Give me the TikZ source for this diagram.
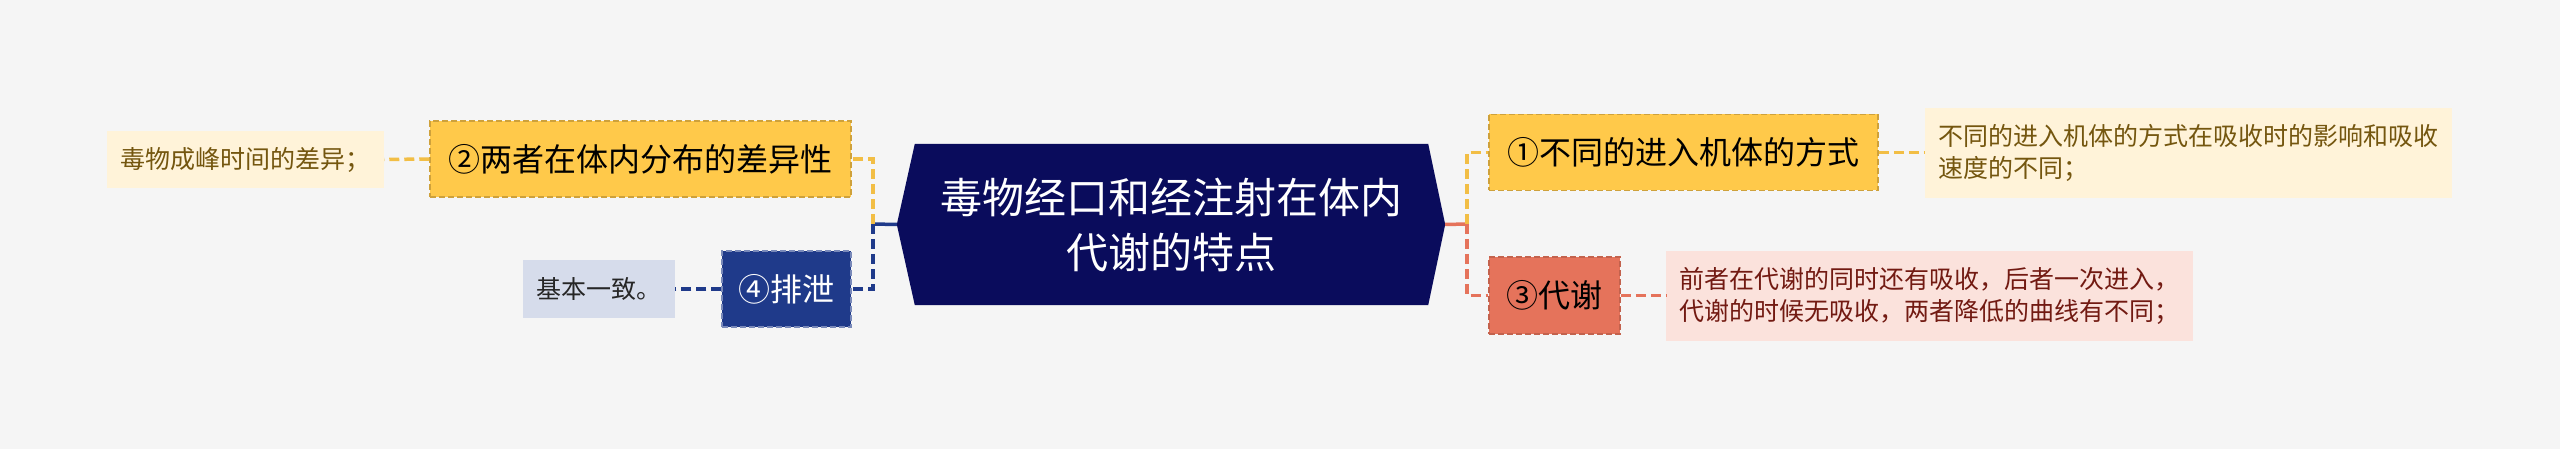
\documentclass[tikz,border=0pt]{standalone}
\usepackage{fontspec}
\setmainfont{Noto Sans CJK SC}
\usetikzlibrary{backgrounds}

\definecolor{bgcol}{HTML}{F5F5F5}
\definecolor{rootcol}{HTML}{0A0C5C}
\definecolor{yelcol}{HTML}{FFC94A}
\definecolor{yelline}{HTML}{F2BE45}
\definecolor{navcol}{HTML}{1F3A8A}
\definecolor{corcol}{HTML}{E5735B}
\definecolor{creamcol}{HTML}{FFF3D9}
\definecolor{creamtxt}{HTML}{74560F}
\definecolor{greycol}{HTML}{D6DCEB}
\definecolor{pinkcol}{HTML}{FBE2DC}
\definecolor{pinktxt}{HTML}{721A12}

\tikzset{
  branch/.style={rectangle, inner sep=0pt, minimum height=76pt,
    font=\fontsize{32}{38}\selectfont, dash pattern=on 6pt off 3pt, line width=1.5pt},
  leaf/.style={rectangle, inner xsep=13.5pt, inner ysep=0pt,
    font=\fontsize{25}{32}\selectfont, align=left},
  link/.style={line width=3.5pt, dash pattern=on 10pt off 5pt},
}

\begin{document}
\begin{tikzpicture}[x=1pt,y=-1pt]
    \useasboundingbox (0,0) rectangle (2560,449);

    % centre
    \node[text=white, align=center, minimum width=513pt, minimum height=161pt,
      font=\fontsize{42}{55}\selectfont] (root) at (1171.5,224.5)
      {毒物经口和经注射在体内\\代谢的特点};
    \begin{scope}[on background layer]
        \fill[bgcol] (0,0) rectangle (2560,449);
        \fill[rootcol] (root.north west) -- (root.north east) -- ([xshift=17pt]root.east)
          -- (root.south east) -- (root.south west) -- ([xshift=-18pt]root.west) -- cycle;
    \end{scope}
    \coordinate (rootW) at ([xshift=-18pt]root.west);
    \coordinate (rootE) at ([xshift=17pt]root.east);
    \coordinate (jL) at (873,224);
    \coordinate (jR) at (1467,224);

    % branches
    \node[branch, fill=yelcol, draw=yelline!85!black, minimum width=389pt] (b1) at (1683.5,152.5) {①不同的进入机体的方式};
    \node[branch, fill=yelcol, draw=yelline!85!black, minimum width=421pt] (b2) at (640.5,159) {②两者在体内分布的差异性};
    \node[branch, fill=corcol, draw=corcol!85!black, minimum width=131pt, minimum height=77pt] (b3) at (1554.5,295.5) {③代谢};
    \node[branch, fill=navcol, draw=navcol!60!white, text=white, minimum width=129pt] (b4) at (786.5,289) {④排泄};

    % leaves
    \node[leaf, fill=creamcol, text=creamtxt, minimum height=90pt] (l1) at (2188,153)
      {不同的进入机体的方式在吸收时的影响和吸收\\速度的不同；};
    \node[leaf, fill=creamcol, text=creamtxt, minimum height=57pt] (l2) at (245.5,159.5) {毒物成峰时间的差异；};
    \node[leaf, fill=pinkcol, text=pinktxt, minimum height=90pt] (l3) at (1929.5,296)
      {前者在代谢的同时还有吸收，后者一次进入，\\代谢的时候无吸收，两者降低的曲线有不同；};
    \node[leaf, fill=greycol, text=black!85, minimum height=58pt] (l4) at (599,289) {基本一致。};

    % connectors
    \draw[navcol, line width=3.5pt] (rootW) -- (jL);
    \draw[corcol, line width=3.5pt] (rootE) -- (jR);
    \draw[link, yelline] (jL) |- (b2.east);
    \draw[link, navcol] (jL) |- (b4.east);
    \draw[link, yelline] (jR) |- (b1.west);
    \draw[link, corcol] (jR) |- (b3.west);

    \draw[link, yelline] (b2.west) -- (l2.east);
    \draw[link, navcol] (b4.west) -- (l4.east);
    \draw[link, yelline] (b1.east) -- (l1.west |- b1.east);
    \draw[link, corcol] (b3.east) -- (l3.west |- b3.east);

\end{tikzpicture}
\end{document}
